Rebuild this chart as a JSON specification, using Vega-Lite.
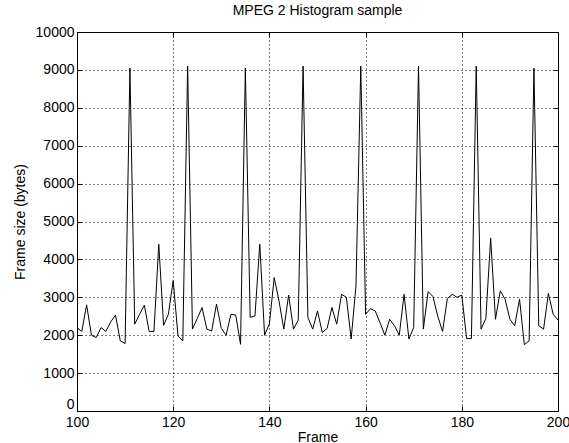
{
  "$schema": "https://vega.github.io/schema/vega-lite/v6.json",
  "width": 481,
  "height": 379,
  "autosize": {"type": "none"},
  "padding": {"left": 77, "top": 32, "right": 11, "bottom": 32},
  "background": "white",
  "config": {
    "font": "Liberation Sans",
    "view": {"stroke": "black", "strokeWidth": 1},
    "axis": {
      "domain": false,
      "grid": true,
      "gridColor": "black",
      "gridOpacity": 1,
      "gridDash": [1, 3],
      "gridWidth": 1,
      "ticks": true,
      "tickColor": "black",
      "tickSize": -5,
      "labelPadding": 8,
      "labelFlush": false,
      "labelColor": "black",
      "labelFontSize": 14,
      "titleColor": "black",
      "titleFontSize": 14,
      "titleFontWeight": "normal"
    }
  },
  "title": {"text": "MPEG 2 Histogram sample", "fontSize": 14, "fontWeight": "normal", "color": "black", "offset": 7},
  "data": {"values": [
    {"frame": 100, "size": 2200}, {"frame": 101, "size": 2100}, {"frame": 102, "size": 2800}, {"frame": 103, "size": 2000},
    {"frame": 104, "size": 1940}, {"frame": 105, "size": 2200}, {"frame": 106, "size": 2100}, {"frame": 107, "size": 2350},
    {"frame": 108, "size": 2530}, {"frame": 109, "size": 1850}, {"frame": 110, "size": 1780}, {"frame": 111, "size": 9050},
    {"frame": 112, "size": 2290}, {"frame": 113, "size": 2550}, {"frame": 114, "size": 2790}, {"frame": 115, "size": 2100},
    {"frame": 116, "size": 2100}, {"frame": 117, "size": 4400}, {"frame": 118, "size": 2260}, {"frame": 119, "size": 2550},
    {"frame": 120, "size": 3440}, {"frame": 121, "size": 1980}, {"frame": 122, "size": 1850}, {"frame": 123, "size": 9100},
    {"frame": 124, "size": 2160}, {"frame": 125, "size": 2440}, {"frame": 126, "size": 2730}, {"frame": 127, "size": 2160},
    {"frame": 128, "size": 2110}, {"frame": 129, "size": 2820}, {"frame": 130, "size": 2180}, {"frame": 131, "size": 2000},
    {"frame": 132, "size": 2550}, {"frame": 133, "size": 2530}, {"frame": 134, "size": 1760}, {"frame": 135, "size": 9050},
    {"frame": 136, "size": 2470}, {"frame": 137, "size": 2510}, {"frame": 138, "size": 4400}, {"frame": 139, "size": 2000},
    {"frame": 140, "size": 2300}, {"frame": 141, "size": 3520}, {"frame": 142, "size": 2900}, {"frame": 143, "size": 2160},
    {"frame": 144, "size": 3060}, {"frame": 145, "size": 2160}, {"frame": 146, "size": 2400}, {"frame": 147, "size": 9100},
    {"frame": 148, "size": 2470}, {"frame": 149, "size": 2160}, {"frame": 150, "size": 2640}, {"frame": 151, "size": 2070},
    {"frame": 152, "size": 2180}, {"frame": 153, "size": 2730}, {"frame": 154, "size": 2290}, {"frame": 155, "size": 3080},
    {"frame": 156, "size": 3000}, {"frame": 157, "size": 1900}, {"frame": 158, "size": 3300}, {"frame": 159, "size": 9100},
    {"frame": 160, "size": 2550}, {"frame": 161, "size": 2700}, {"frame": 162, "size": 2640}, {"frame": 163, "size": 2330},
    {"frame": 164, "size": 2000}, {"frame": 165, "size": 2420}, {"frame": 166, "size": 2250}, {"frame": 167, "size": 2000},
    {"frame": 168, "size": 3080}, {"frame": 169, "size": 1900}, {"frame": 170, "size": 2200}, {"frame": 171, "size": 9100},
    {"frame": 172, "size": 2160}, {"frame": 173, "size": 3150}, {"frame": 174, "size": 3020}, {"frame": 175, "size": 2500},
    {"frame": 176, "size": 2100}, {"frame": 177, "size": 2970}, {"frame": 178, "size": 3080}, {"frame": 179, "size": 3000},
    {"frame": 180, "size": 3060}, {"frame": 181, "size": 1910}, {"frame": 182, "size": 1910}, {"frame": 183, "size": 9100},
    {"frame": 184, "size": 2160}, {"frame": 185, "size": 2440}, {"frame": 186, "size": 4560}, {"frame": 187, "size": 2420},
    {"frame": 188, "size": 3170}, {"frame": 189, "size": 2950}, {"frame": 190, "size": 2420}, {"frame": 191, "size": 2250},
    {"frame": 192, "size": 2950}, {"frame": 193, "size": 1750}, {"frame": 194, "size": 1850}, {"frame": 195, "size": 9050},
    {"frame": 196, "size": 2250}, {"frame": 197, "size": 2160}, {"frame": 198, "size": 3100}, {"frame": 199, "size": 2550},
    {"frame": 200, "size": 2400}
  ]},
  "layer": [
    {
      "mark": {"type": "line", "color": "black", "strokeWidth": 1},
      "encoding": {
        "x": {"field": "frame", "type": "quantitative", "scale": {"domain": [100, 200], "nice": false, "zero": false},
              "axis": {"orient": "bottom", "title": "Frame", "values": [100, 120, 140, 160, 180, 200], "titlePadding": 1, "labelPadding": 9}},
        "y": {"field": "size", "type": "quantitative", "scale": {"domain": [0, 10000], "nice": false},
              "axis": {"orient": "left", "title": "Frame size (bytes)", "values": [0, 1000, 2000, 3000, 4000, 5000, 6000, 7000, 8000, 9000, 10000], "format": "d", "titlePadding": 8,
                       "labelBaseline": {"condition": {"test": "datum.value === 0", "value": "bottom"}, "value": "middle"}}}
      }
    },
    {
      "mark": {"type": "line", "strokeOpacity": 0},
      "encoding": {
        "x": {"field": "frame", "type": "quantitative",
              "axis": {"orient": "top", "title": null, "labels": false, "grid": false, "values": [100, 120, 140, 160, 180, 200]}},
        "y": {"field": "size", "type": "quantitative",
              "axis": {"orient": "right", "title": null, "labels": false, "grid": false, "values": [0, 1000, 2000, 3000, 4000, 5000, 6000, 7000, 8000, 9000, 10000]}}
      }
    }
  ],
  "resolve": {"axis": {"x": "independent", "y": "independent"}}
}
